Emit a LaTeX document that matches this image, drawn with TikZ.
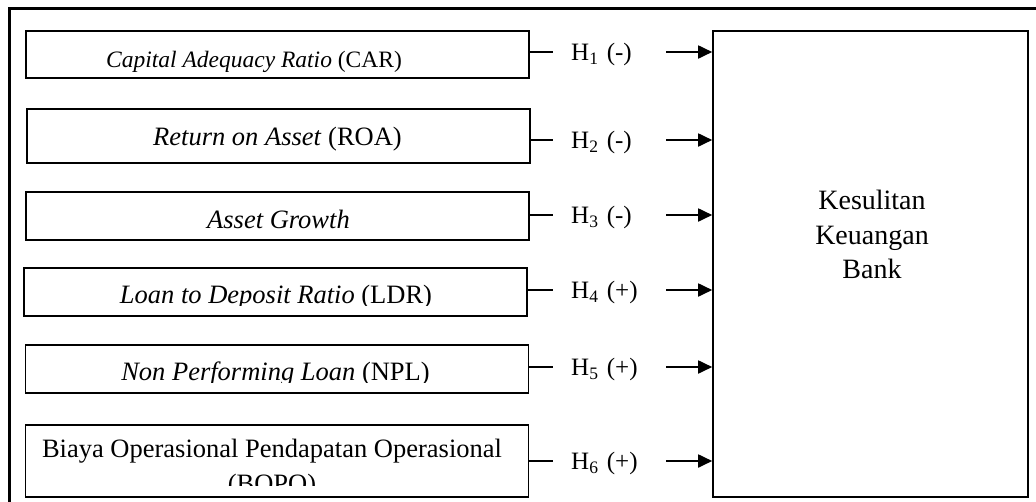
\documentclass[tikz,border=0pt]{standalone}
\usepackage{fontspec}
\setmainfont{Liberation Serif}
\usetikzlibrary{positioning, arrows.meta}

\tikzset{
  kotak/.style={draw, line width=1.6pt, inner sep=0pt, minimum width=503pt},
  isi/.style={inner sep=0pt, font=\fontsize{26.5}{35}\selectfont},
  hip/.style={anchor=west, inner sep=0pt, text width=95pt, align=left,
              text height=17pt, text depth=0pt, font=\fontsize{25}{30}\selectfont},
  garis/.style={line width=1.8pt},
  panah/.style={line width=1.8pt, -{Triangle[length=14pt,width=13pt]}}
}

\begin{document}
\begin{tikzpicture}[x=1pt,y=-1pt]
            \useasboundingbox (0,0) rectangle (1036,501);

            %外枠を書く
            \draw[line width=2.6pt] (1040,8.5) -- (9.5,8.5) -- (9.5,505);

            %箱を書く
            \node[kotak, minimum height=47pt] (b1) at (277.5,54.5) {};
            \node[kotak, minimum height=54pt] (b2) at (278.5,136) {};
            \node[kotak, minimum height=48pt] (b3) at (277.5,216) {};
            \node[kotak, minimum height=48pt] (b4) at (275.5,292) {};
            \node[kotak, minimum height=48pt] (b5) at (277,369) {};
            \node[kotak, minimum height=72pt] (b6) at (277,461) {};
            \node[draw, line width=1.6pt, inner sep=0pt, minimum width=315pt,
                  minimum height=466pt] (kb) at (870.5,264) {};

            %文字を書く
            \begin{scope}
              \clip (b1.north west) rectangle ([yshift=6pt]b1.south east);
              \node[isi, anchor=base, font=\fontsize{23.5}{30}\selectfont] (t1) at (254,67)
                {\textit{Capital Adequacy Ratio} (CAR)};
            \end{scope}
            \begin{scope}
              \clip (b2.north west) rectangle ([yshift=10pt]b2.south east);
              \node[isi, anchor=base] (t2) at (277.5,145) {\textit{Return on Asset} (ROA)};
            \end{scope}
            \begin{scope}
              \clip (b3.north west) rectangle ([yshift=10pt]b3.south east);
              \node[isi, anchor=base] (t3) at (278.5,228) {\textit{Asset Growth}};
            \end{scope}
            \begin{scope}
              \clip (b4.north west) rectangle ([yshift=11pt]b4.south east);
              \node[isi, anchor=base] (t4) at (276,303) {\textit{Loan to Deposit Ratio} (LDR)};
            \end{scope}
            \begin{scope}
              \clip (b5.north west) rectangle ([yshift=11pt]b5.south east);
              \node[isi, anchor=base] (t5) at (275.5,380) {\textit{Non Performing Loan} (NPL)};
            \end{scope}
            \begin{scope}
              \clip (b6.north west) rectangle ([yshift=12pt]b6.south east);
              \node[isi, anchor=north, align=center] (t6) at (272,439)
                {Biaya Operasional Pendapatan Operasional\\(BOPO)};
            \end{scope}

            \node[isi, anchor=north, align=center, font=\fontsize{28}{34.5}\selectfont]
              (kt) at (872,190) {Kesulitan\\Keuangan\\Bank};

            %仮説を書く
            \node[hip] (h1) at (571,52) {H\textsubscript{1} (-)};
            \node[hip] (h2) at (571,140) {H\textsubscript{2} (-)};
            \node[hip] (h3) at (571,215) {H\textsubscript{3} (-)};
            \node[hip] (h4) at (571,290) {H\textsubscript{4} (+)};
            \node[hip] (h5) at (571,367) {H\textsubscript{5} (+)};
            \node[hip] (h6) at (571,461) {H\textsubscript{6} (+)};

            %線と矢印を書く
            \draw[garis] (h1.west -| b1.east) -- ([xshift=-18pt]h1.west);
            \draw[garis] (h2.west -| b2.east) -- ([xshift=-18pt]h2.west);
            \draw[garis] (h3.west -| b3.east) -- ([xshift=-18pt]h3.west);
            \draw[garis] (h4.west -| b4.east) -- ([xshift=-18pt]h4.west);
            \draw[garis] (h5.west -| b5.east) -- ([xshift=-18pt]h5.west);
            \draw[garis] (h6.west -| b6.east) -- ([xshift=-18pt]h6.west);

            \draw[panah] (h1.east) -- (h1.east -| kb.west);
            \draw[panah] (h2.east) -- (h2.east -| kb.west);
            \draw[panah] (h3.east) -- (h3.east -| kb.west);
            \draw[panah] (h4.east) -- (h4.east -| kb.west);
            \draw[panah] (h5.east) -- (h5.east -| kb.west);
            \draw[panah] (h6.east) -- (h6.east -| kb.west);
\end{tikzpicture}
\end{document}
